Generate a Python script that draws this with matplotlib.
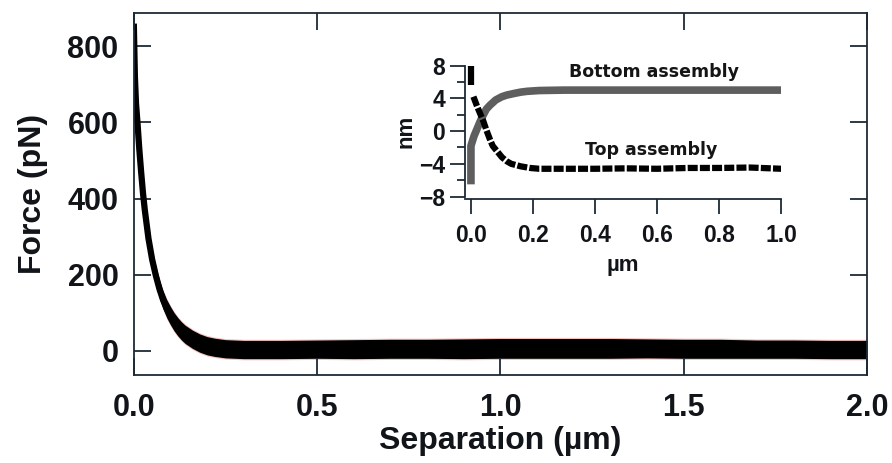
import matplotlib
matplotlib.use("Agg")
import matplotlib.pyplot as plt
import numpy as np

plt.rcParams['font.family'] = ['Liberation Sans', 'DejaVu Sans']
plt.rcParams['font.weight'] = 'bold'

# ---- main data: force vs separation (mean trace) ----
separation = [0.0, 0.003, 0.006, 0.01, 0.015, 0.02, 0.025, 0.03, 0.04, 0.05, 0.06, 0.07,
              0.08, 0.09, 0.10, 0.11, 0.12, 0.13, 0.14, 0.16, 0.18, 0.20, 0.22, 0.25,
              0.30, 0.40, 0.50, 0.60, 0.70, 0.80, 0.90, 1.00, 1.10, 1.20, 1.30, 1.40,
              1.50, 1.60, 1.70, 1.80, 1.90, 2.00]
force = [860, 720, 650, 600, 530, 470, 415, 370, 295, 240, 198, 162,
         133, 110, 92, 76, 63, 52, 43, 30, 20, 13, 9, 5,
         3, 3, 4, 4, 5, 5, 5, 6, 6, 6, 6, 6,
         5, 5, 4, 4, 3, 3]
band = [30, 60, 40, 30, 26, 24, 24, 24, 24, 24, 24, 24,
        24, 24, 24, 24, 24, 24, 24, 24, 24, 24, 24, 24,
        24, 24, 24, 25, 25, 25, 26, 26, 26, 26, 26, 25,
        25, 25, 24, 24, 24, 24]

# ---- inset data ----
bottom_x = [0.0, 0.0, 0.005, 0.01, 0.02, 0.03, 0.04, 0.05, 0.0625, 0.08, 0.10, 0.116,
            0.14, 0.16, 0.18, 0.22, 0.30, 0.50, 0.70, 1.0]
bottom_y = [-6.5, -1.8, -1.2, -0.6, 0.3, 1.2, 2.0, 2.7, 3.2, 3.8, 4.2, 4.4,
            4.6, 4.75, 4.85, 4.95, 5.0, 5.0, 5.0, 5.0]
top_bar_x = [0.0, 0.0]
top_bar_y = [7.9, 5.6]
top_x = [0.008, 0.02, 0.03, 0.04, 0.05, 0.06, 0.07, 0.085, 0.10, 0.116, 0.13, 0.16, 0.19,
         0.22, 0.30, 0.40, 0.50, 0.60, 0.70, 0.80, 0.90, 1.0]
top_y = [4.2, 3.0, 2.1, 1.2, 0.1, -0.9, -1.8, -2.5, -3.2, -3.7, -4.0, -4.3, -4.5,
         -4.6, -4.6, -4.6, -4.55, -4.6, -4.5, -4.5, -4.45, -4.6]

xticks_main = [0.0, 0.5, 1.0, 1.5, 2.0]
yticks_main = [0, 200, 400, 600, 800]
xticks_inset = [0.0, 0.2, 0.4, 0.6, 0.8, 1.0]
yticks_inset = [-8, -4, 0, 4, 8]

spine_col = '#1c2a36'
text_col = '#111418'

fig = plt.figure(figsize=(8.92, 4.63), dpi=100)
ax = fig.add_axes([0.150, 0.190, 0.822, 0.782])

sep = np.array(separation)
f = np.array(force)
b = np.array(band)
ax.fill_between(sep, f - b - 3, f + b + 3, color='#e03a2a', alpha=0.3, lw=0)
ax.fill_between(sep, f - b, f + b, color='black', lw=0)
ax.plot(sep, f, color='black', lw=4.5, solid_capstyle='butt')

ax.set_xlim(0, 2.0)
ax.set_ylim(-64, 888)
ax.set_xticks(xticks_main)
ax.set_yticks(yticks_main)
ax.set_xticklabels([f"{v:.1f}" for v in xticks_main])
ax.tick_params(direction='in', length=12, width=1.3, color=spine_col,
               labelsize=22, labelcolor=text_col, top=True, right=True)
ax.tick_params(axis='x', pad=13)
ax.tick_params(axis='y', pad=11)
for s in ax.spines.values():
    s.set_color(spine_col)
    s.set_linewidth(1.3)
ax.set_xlabel('Separation (µm)', fontsize=23, fontweight='bold', color=text_col, labelpad=2)
ax.set_ylabel('Force (pN)', fontsize=23, fontweight='bold', color=text_col, labelpad=14)

# ---- inset ----
ins = fig.add_axes([0.521, 0.570, 0.355, 0.292])
ins.set_facecolor('none')
ins.plot(bottom_x, bottom_y, color='#5e5e5e', lw=5.5, solid_capstyle='butt')
ins.plot(top_bar_x, top_bar_y, color='black', lw=4.5, solid_capstyle='butt')
ins.plot(top_x, top_y, color='black', lw=4.5, linestyle=(0, (1.6, 0.35)))
ins.set_xlim(-0.02, 1.0)
ins.set_ylim(-8.3, 8.2)
ins.spines['top'].set_visible(False)
ins.spines['right'].set_visible(False)
for s in ['left', 'bottom']:
    ins.spines[s].set_color(spine_col)
    ins.spines[s].set_linewidth(1.3)
ins.spines['left'].set_bounds(-8, 8)
ins.set_xticks(xticks_inset)
ins.set_xticklabels([f"{v:.1f}" for v in xticks_inset])
ins.set_yticks(yticks_inset)
ins.set_yticks([-6, -2, 2, 6], minor=True)
ins.tick_params(which='major', direction='out', length=11, width=1.3, color=spine_col,
                labelsize=16.5, labelcolor=text_col)
ins.tick_params(which='minor', direction='out', length=6, width=1.3, color=spine_col)
ins.tick_params(axis='y', pad=3)
ins.tick_params(axis='x', pad=7)
ins.set_xlabel('µm', fontsize=16, fontweight='bold', color=text_col, labelpad=6)
ins.set_ylabel('nm', fontsize=16, fontweight='bold', color=text_col, labelpad=2)
ins.text(0.59, 7.2, 'Bottom assembly', fontsize=12.5, fontweight='heavy',
         family=['DejaVu Sans'], ha='center', va='center', color='#151515')
ins.text(0.58, -2.3, 'Top assembly', fontsize=12.5, fontweight='heavy',
         family=['DejaVu Sans'], ha='center', va='center', color='#151515')

fig.savefig('out.png', dpi=100)
